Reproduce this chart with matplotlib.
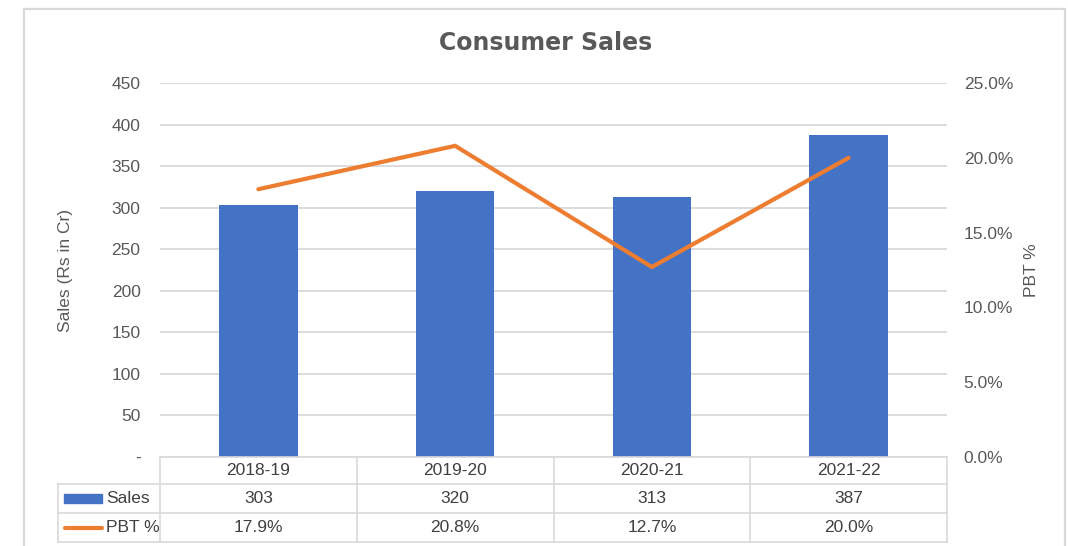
import matplotlib
matplotlib.use("Agg")
import matplotlib.pyplot as plt
from matplotlib.lines import Line2D
from matplotlib.patches import Rectangle
import numpy as np

years = ["2018-19", "2019-20", "2020-21", "2021-22"]
sales = [303, 320, 313, 387]
pbt = [17.9, 20.8, 12.7, 20.0]
sales_ticks = [0, 50, 100, 150, 200, 250, 300, 350, 400, 450]
pbt_ticks = [0, 5, 10, 15, 20, 25]

BAR = "#4472C4"
LINE = "#ED7D31"
TXT = "#595959"
GRID = "#D9D9D9"
FONT = ["Liberation Sans Narrow", "Liberation Sans", "DejaVu Sans"]
plt.rcParams["font.family"] = FONT

W, H = 1068, 546
fig = plt.figure(figsize=(W / 100, H / 100), dpi=100)

def fx(px):
    return px / W

def fy(py):
    return 1 - py / H

# outer border
fig.add_artist(Rectangle((fx(24), fy(560)), fx(1065) - fx(24), fy(9) - fy(560),
                         transform=fig.transFigure, fill=False, edgecolor=GRID, lw=1.6))

L, R, T, B = 160, 947, 83, 457
ax = fig.add_axes([fx(L), fy(B), fx(R) - fx(L), fy(T) - fy(B)])
x = np.arange(len(years))
ax.bar(x, sales, width=0.4, color=BAR, zorder=2)
ax.set_xlim(-0.5, len(years) - 0.5)
ax.set_ylim(0, 450)
ax.set_yticks(sales_ticks)
ax.set_yticklabels(["-" if v == 0 else str(v) for v in sales_ticks])
ax.yaxis.grid(True, color=GRID, lw=1.3)
ax.set_axisbelow(True)
for s in ax.spines.values():
    s.set_visible(False)
ax.tick_params(axis="y", length=0, colors=TXT, labelsize=12.5, pad=14)
ax.tick_params(axis="x", length=0, labelbottom=False)
ax.set_ylabel("Sales (Rs in Cr)", color=TXT, fontsize=12.5, labelpad=28)

ax2 = ax.twinx()
ax2.plot(x, pbt, color=LINE, lw=3, solid_capstyle="round", solid_joinstyle="miter", zorder=3)
ax2.set_ylim(0, 25)
ax2.set_yticks(pbt_ticks)
ax2.set_yticklabels([f"{v:.1f}%" for v in pbt_ticks])
for s in ax2.spines.values():
    s.set_visible(False)
ax2.tick_params(axis="y", length=0, colors=TXT, labelsize=12.5, pad=12)
ax2.set_ylabel("PBT %", color=TXT, fontsize=12.5, rotation=90, labelpad=8)

fig.text(fx(546), fy(43), "Consumer Sales", ha="center", va="center", fontsize=17,
         fontweight="bold", color=TXT, family=["DejaVu Sans"])

# data table
tl = fig.transFigure
rows_y = [457, 484, 513, 542]
col_x = [L + i * (R - L) / 4 for i in range(5)]
leg_l = 58
lw_t = 1.2
fig.add_artist(Line2D([fx(L), fx(R)], [fy(rows_y[0])] * 2, transform=tl, color=GRID, lw=lw_t))
for yy in rows_y[1:]:
    fig.add_artist(Line2D([fx(leg_l), fx(R)], [fy(yy)] * 2, transform=tl, color=GRID, lw=lw_t))
for xx in col_x:
    fig.add_artist(Line2D([fx(xx)] * 2, [fy(rows_y[0]), fy(rows_y[-1])], transform=tl, color=GRID, lw=lw_t))
fig.add_artist(Line2D([fx(leg_l)] * 2, [fy(rows_y[1]), fy(rows_y[-1])], transform=tl, color=GRID, lw=lw_t))

def cy(i):
    return fy((rows_y[i] + rows_y[i + 1]) / 2)

for i, yr in enumerate(years):
    cx = fx((col_x[i] + col_x[i + 1]) / 2)
    fig.text(cx, cy(0), yr, ha="center", va="center", fontsize=12.5, color="#404040")
    fig.text(cx, cy(1), f"{sales[i]}", ha="center", va="center", fontsize=12.5, color="#404040")
    fig.text(cx, cy(2), f"{pbt[i]:.1f}%", ha="center", va="center", fontsize=12.5, color="#404040")

fig.add_artist(Rectangle((fx(64), cy(1) - 0.008), fx(102) - fx(64), 0.016,
                         transform=tl, color=BAR))
fig.text(fx(106), cy(1), "Sales", ha="left", va="center", fontsize=12.5, color="#404040")
fig.add_artist(Line2D([fx(65), fx(102)], [cy(2)] * 2, transform=tl, color=LINE, lw=3,
                      solid_capstyle="round"))
fig.text(fx(106), cy(2), "PBT %", ha="left", va="center", fontsize=12.5, color="#404040")

fig.savefig("out.png", dpi=100)
